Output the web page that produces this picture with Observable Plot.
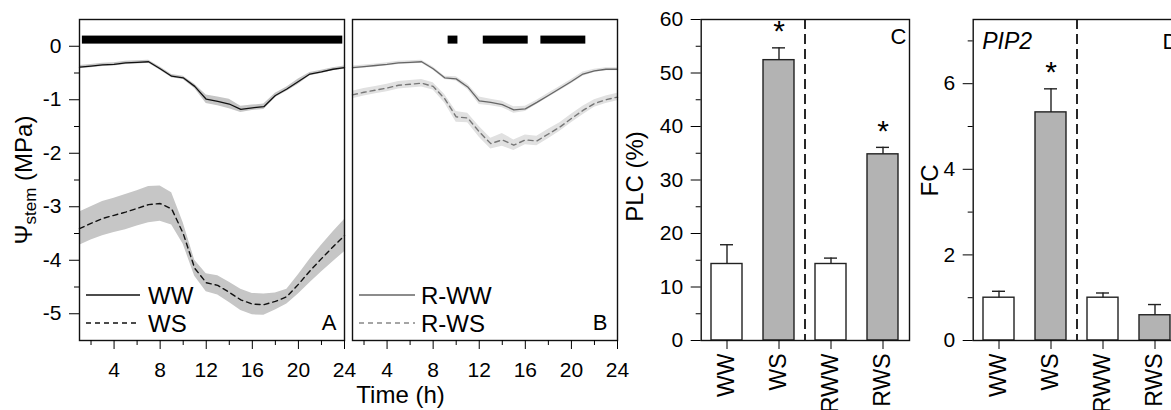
<!DOCTYPE html>
<html><head><meta charset="utf-8">
<script src="https://cdn.jsdelivr.net/npm/d3@7"></script>
<script src="https://cdn.jsdelivr.net/npm/@observablehq/plot@0.6"></script>
<style>
body{margin:0;background:#fff;}
#chart{position:relative;width:1171px;height:410px;overflow:hidden;background:#fff;}
#chart svg{position:absolute;left:0;top:0;}
</style></head><body><div id="chart"></div>
<script>
// ---- Panel A / B : diurnal stem water potential (MPa) ----
const hours = [1,2,3,4,5,6,7,8,9,10,11,12,13,14,15,16,17,18,19,20,21,22,23,24];
const wwMean = [-0.39,-0.37,-0.35,-0.34,-0.31,-0.30,-0.29,-0.42,-0.56,-0.59,-0.75,-0.99,-1.03,-1.08,-1.18,-1.15,-1.13,-0.92,-0.80,-0.66,-0.52,-0.48,-0.43,-0.40];
const wwSE   = [0.03,0.03,0.03,0.03,0.03,0.03,0.03,0.03,0.03,0.03,0.04,0.08,0.08,0.09,0.06,0.05,0.05,0.04,0.04,0.05,0.03,0.03,0.03,0.03];
const wsMean = [-3.41,-3.31,-3.22,-3.16,-3.10,-3.03,-2.96,-2.94,-3.04,-3.50,-4.15,-4.42,-4.47,-4.60,-4.74,-4.82,-4.83,-4.77,-4.68,-4.45,-4.20,-3.97,-3.75,-3.54];
const wsSE   = [0.31,0.31,0.32,0.32,0.33,0.33,0.34,0.33,0.30,0.20,0.15,0.17,0.18,0.19,0.20,0.20,0.20,0.16,0.14,0.18,0.22,0.25,0.28,0.30];
const rwwMean = [-0.40,-0.38,-0.36,-0.34,-0.31,-0.30,-0.29,-0.42,-0.59,-0.61,-0.76,-1.02,-1.05,-1.09,-1.19,-1.17,-1.05,-0.92,-0.79,-0.66,-0.52,-0.46,-0.43,-0.43];
const rwwSE   = [0.03,0.03,0.03,0.03,0.03,0.03,0.03,0.03,0.03,0.04,0.05,0.07,0.06,0.06,0.06,0.05,0.04,0.04,0.04,0.04,0.04,0.03,0.03,0.03];
const rwsMean = [-0.91,-0.86,-0.82,-0.78,-0.73,-0.71,-0.69,-0.75,-0.98,-1.32,-1.34,-1.60,-1.82,-1.75,-1.85,-1.75,-1.77,-1.64,-1.51,-1.35,-1.20,-1.07,-1.00,-0.95];
const rwsSE   = [0.07,0.07,0.07,0.07,0.07,0.07,0.07,0.07,0.08,0.10,0.09,0.10,0.10,0.12,0.10,0.09,0.09,0.09,0.08,0.08,0.08,0.07,0.07,0.07];
// black period bars (h)
const periodStartA = [1.25];
const periodEndA   = [23.85];
const periodStartB = [9.3, 12.35, 17.35];
const periodEndB   = [10.15, 16.25, 21.25];
const timeTicks  = [4,8,12,16,20,24];
const timeMinor  = [2,6,10,14,18,22];
const psiTicks   = [-5,-4,-3,-2,-1,0];
const psiMinor   = [-4.5,-3.5,-2.5,-1.5,-0.5];

// ---- Panel C / D ----
const groups = ["WW","WS","RWW","RWS"];
const plcMean = [14.3, 52.4, 14.3, 34.8];
const plcErr  = [3.6, 2.3, 1.1, 1.3];
const plcSig  = [false, true, false, true];
const fcMean  = [1.0, 5.33, 1.0, 0.59];
const fcErr   = [0.15, 0.55, 0.11, 0.25];
const fcSig   = [false, true, false, false];
const plcTicks = [0,10,20,30,40,50,60];
const plcMinor = [5,15,25,35,45,55];
const fcTicks  = [0,2,4,6];
const fcMinor  = [1,3,5,7];

const FONT = '"Liberation Sans", Arial, Helvetica, sans-serif';
const baseStyle = {fontFamily: FONT, fontSize: "21px", background: "transparent", overflow: "visible", maxWidth: "none", color: "black"};
const W = 1171, H = 410, TOP = 19, BOTTOM = 70;

const dataA = hours.map((h,i)=>({h, m1: wwMean[i], s1: wwSE[i], m2: wsMean[i], s2: wsSE[i]}));
const dataB = hours.map((h,i)=>({h, m1: rwwMean[i], s1: rwwSE[i], m2: rwsMean[i], s2: rwsSE[i]}));
const perA = periodStartA.map((s,i)=>({s, e: periodEndA[i]}));
const perB = periodStartB.map((s,i)=>({s, e: periodEndB[i]}));

function timePanel(data, per, left, right, opts) {
  return Plot.plot({
    width: W, height: H,
    marginLeft: left, marginRight: W - right, marginTop: TOP, marginBottom: BOTTOM,
    style: baseStyle,
    x: {domain: [1, 24]},
    y: {domain: [-5.5, 0.5]},
    marks: [
      Plot.areaY(data, {x: "h", y1: d => d.m1 - d.s1, y2: d => d.m1 + d.s1, fill: opts.band}),
      Plot.areaY(data, {x: "h", y1: d => d.m2 - d.s2, y2: d => d.m2 + d.s2, fill: opts.band}),
      Plot.lineY(data, {x: "h", y: "m1", stroke: opts.line, strokeWidth: 1.3}),
      Plot.lineY(data, {x: "h", y: "m2", stroke: opts.line2, strokeWidth: 1.4, strokeDasharray: "5,4"}),
      Plot.rect(per, {x1: "s", x2: "e", y1: () => 0.04, y2: () => 0.19, fill: "black"}),
      Plot.frame({stroke: "#111", strokeWidth: 1.4}),
      Plot.axisX(timeTicks, {tickSize: 9, tickPadding: 13, tickFormat: d => String(d), label: null, fontSize: 21}),
      Plot.axisX(timeMinor, {tickSize: 5, tickFormat: () => "", label: null}),
      ...(opts.yaxis ? [
        Plot.axisY(psiTicks, {tickSize: 10, tickPadding: 8, tickFormat: d => String(d), label: null, fontSize: 21}),
        Plot.axisY(psiMinor, {tickSize: 5, tickFormat: () => "", label: null})
      ] : [Plot.axisY([], {label: null})]),
      Plot.text([opts.letter], {frameAnchor: "bottom-right", textAnchor: "end", lineAnchor: "bottom", dx: opts.letterDx, dy: -11, fontSize: 22, text: d => d}),
      ...(opts.extra || [])
    ]
  });
}

const svgA = timePanel(dataA, perA, 79, 344, {band: "#c6c6c6", line: "#111", line2: "#111", yaxis: true, letter: "A", letterDx: -8});
const svgB = timePanel(dataB, perB, 352, 617, {band: "#e1e1e1", line: "#666", line2: "#777", yaxis: false, letter: "B", letterDx: -10,
  extra: [Plot.text(["Time (h)"], {frameAnchor: "bottom-left", textAnchor: "middle", lineAnchor: "bottom", dx: 48, dy: 62, fontSize: 24, text: d => d})]});

function barPanel(vals, errs, sigs, left, right, ydomain, ticks, minor, opts) {
  const rows = groups.map((g,i)=>({g, v: vals[i], e: errs[i], sig: sigs[i]}));
  return Plot.plot({
    width: opts.width || W, height: H,
    marginLeft: left, marginRight: (opts.width || W) - right, marginTop: TOP, marginBottom: BOTTOM,
    style: baseStyle,
    x: {domain: groups, paddingInner: 0.4, paddingOuter: 0.2},
    y: {domain: ydomain},
    marks: [
      Plot.barY(rows, {x: "g", y: "v", fill: d => d.g.endsWith("WS") ? "#b3b3b3" : "white", stroke: "#222", strokeWidth: 1.4}),
      Plot.ruleX(rows, {x: "g", y1: "v", y2: d => d.v + d.e, stroke: "#222", strokeWidth: 1.4}),
      Plot.tickY(rows, {x: "g", y: d => d.v + d.e, insetLeft: 9, insetRight: 9, stroke: "#222", strokeWidth: 1.4}),
      Plot.ruleX(["WS"], {x: d => d, dx: 26, stroke: "#111", strokeWidth: 1.8, strokeDasharray: "10,5"}),
      Plot.text(rows.filter(d => d.sig), {x: "g", y: d => d.v + d.e, text: () => "*", dy: -16, fontSize: 30}),
      Plot.frame({stroke: "#111", strokeWidth: 1.4}),
      Plot.axisY(ticks, {tickSize: 10, tickPadding: 8, tickFormat: d => String(d), label: null, fontSize: 21}),
      Plot.axisY(minor, {tickSize: 5, tickFormat: () => "", label: null}),
      Plot.axisX({tickRotate: -90, tickSize: 9, tickPadding: 4, label: null, fontSize: 23}),
      Plot.text([opts.title], {frameAnchor: "left", rotate: -90, textAnchor: "middle", lineAnchor: "bottom", dx: opts.titleDx, dy: opts.titleDy, fontSize: 24, text: d => d}),
      Plot.text([opts.letter], {frameAnchor: "top-right", textAnchor: "end", lineAnchor: "bottom", dx: -3, dy: opts.letterDy, fontSize: 22, text: d => d}),
      ...(opts.extra || [])
    ]
  });
}

const svgC = barPanel(plcMean, plcErr, plcSig, 700.7, 909, [0, 60], plcTicks, plcMinor,
  {title: "PLC (%)", titleDx: -58.7, titleDy: -3.5, letter: "C", letterDy: 24});
const svgD = barPanel(fcMean, fcErr, fcSig, 972.7, 1181, [0, 7.5], fcTicks, fcMinor,
  {width: 1181, title: "FC", titleDx: -35.7, titleDy: 0.5, letter: "D", letterDy: 29,
   extra: [Plot.text(["PIP2"], {frameAnchor: "top-left", textAnchor: "start", lineAnchor: "bottom", dx: 9, dy: 29, fontSize: 23, fontStyle: "italic", text: d => d})]});

const chart = document.getElementById("chart");
[svgA, svgB, svgC, svgD].forEach(s => chart.appendChild(s));

// Y title with subscript (panel A)
const ta = d3.select(svgA).append("text")
  .attr("transform", "translate(32,180) rotate(-90)")
  .attr("text-anchor", "middle").attr("font-size", 24).attr("fill", "black");
ta.append("tspan").text("Ψ");
ta.append("tspan").attr("font-size", 17).attr("dy", 4).text("stem");
ta.append("tspan").attr("dy", -4).text(" (MPa)");

// Legends
function legend(svg, x0, x1, tx, items) {
  const g = d3.select(svg).append("g").attr("font-size", 24).attr("fill", "black").attr("text-anchor", "start");
  items.forEach(it => {
    g.append("line").attr("x1", x0).attr("x2", x1).attr("y1", it.y).attr("y2", it.y)
      .attr("stroke", it.stroke).attr("stroke-width", 1.4).attr("stroke-dasharray", it.dash || null);
    g.append("text").attr("x", tx).attr("y", it.y + 9).attr("text-anchor", "start").text(it.label);
  });
}
legend(svgA, 86, 140, 148, [{y: 295, label: "WW", stroke: "#111"}, {y: 323, label: "WS", stroke: "#111", dash: "5,4"}]);
legend(svgB, 359, 415, 421, [{y: 295, label: "R-WW", stroke: "#666"}, {y: 323, label: "R-WS", stroke: "#888", dash: "5,4"}]);
</script>
</body></html>
